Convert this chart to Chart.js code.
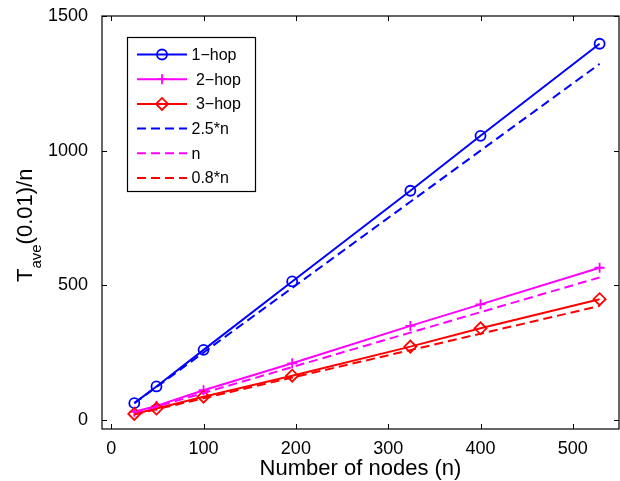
<!DOCTYPE html>
<html>
<head>
<meta charset="utf-8">
<script src="https://cdn.jsdelivr.net/npm/chart.js@4"></script>
<style>
  html, body { margin: 0; padding: 0; background: #fff; }
  #wrap { width: 620px; height: 481px; }
</style>
</head>
<body>
<div id="wrap"><canvas id="chart" width="620" height="481"></canvas></div>
<script>
const xNodes = [25, 49, 100, 196, 324, 400, 529];
const hop1 = [62, 124, 260, 514, 851, 1055, 1397];
const hop2 = [30, 52, 110, 210, 349, 429, 565];
const hop3 = [22, 42, 86, 164, 272, 340, 448];
const ref25 = [62, 122, 250, 490, 810, 1000, 1322];
const ref1 = [25, 49, 100, 196, 324, 400, 529];
const ref08 = [20, 39, 80, 157, 259, 320, 423];

const seriesLabels = ['1\u2212hop', ' 2\u2212hop', ' 3\u2212hop', '2.5*n', 'n', '0.8*n'];
const xTicks = [0, 100, 200, 300, 400, 500];
const yTicks = [0, 500, 1000, 1500];

const FONT = "'Liberation Sans', Arial, Helvetica, sans-serif";
const BLUE = '#0000ff';
const MAGENTA = '#ff00ff';
const RED = '#ff0000';
const DASH = [9, 5];

function pts(ys) {
  return xNodes.map((x, i) => ({ x, y: ys[i] }));
}

function makeSet(i, ys, color, style, dashed) {
  return {
    label: seriesLabels[i],
    data: pts(ys),
    borderColor: color,
    backgroundColor: 'transparent',
    borderWidth: 2,
    borderDash: dashed ? DASH : [],
    pointStyle: style || false,
    pointRadius: style ? (style === 'rectRot' ? 6 : 5) : 0,
    pointBorderWidth: 1.8,
    pointBorderColor: color,
    pointBackgroundColor: 'transparent',
    tension: 0,
    order: 10 - i
  };
}

const datasets = [
  makeSet(0, hop1, BLUE, 'circle', false),
  makeSet(1, hop2, MAGENTA, 'cross', false),
  makeSet(2, hop3, RED, 'rectRot', false),
  makeSet(3, ref25, BLUE, null, true),
  makeSet(4, ref1, MAGENTA, null, true),
  makeSet(5, ref08, RED, null, true)
];

// box, inward ticks, legend, axis titles in the MATLAB look
const matlabDecor = {
  id: 'matlabDecor',
  afterDraw(chart) {
    const ctx = chart.ctx;
    const a = chart.chartArea;
    const xs = chart.scales.x, ys = chart.scales.y;
    ctx.save();
    ctx.strokeStyle = '#000';
    ctx.lineWidth = 1.2;
    ctx.strokeRect(a.left, a.top, a.right - a.left, a.bottom - a.top);
    const tl = 5;
    ctx.lineWidth = 1;
    ctx.beginPath();
    xTicks.forEach(v => {
      const px = Math.round(xs.getPixelForValue(v)) + 0.5;
      ctx.moveTo(px, a.bottom); ctx.lineTo(px, a.bottom - tl);
      ctx.moveTo(px, a.top); ctx.lineTo(px, a.top + tl);
    });
    yTicks.forEach(v => {
      const py = Math.round(ys.getPixelForValue(v)) + 0.5;
      ctx.moveTo(a.left, py); ctx.lineTo(a.left + tl, py);
      ctx.moveTo(a.right, py); ctx.lineTo(a.right - tl, py);
    });
    ctx.stroke();

    // legend
    const lx = 127.5, ly = 37.5, lw = 128, lh = 154;
    ctx.fillStyle = '#fff';
    ctx.fillRect(lx, ly, lw, lh);
    ctx.lineWidth = 1.2;
    ctx.strokeRect(lx, ly, lw, lh);
    ctx.font = '16px ' + FONT;
    ctx.textBaseline = 'middle';
    ctx.textAlign = 'left';
    chart.data.datasets.forEach((ds, i) => {
      const y = 54.5 + i * 24.7;
      ctx.strokeStyle = ds.borderColor;
      ctx.lineWidth = 2;
      ctx.setLineDash(ds.borderDash);
      ctx.beginPath();
      ctx.moveTo(137, y); ctx.lineTo(187, y);
      ctx.stroke();
      ctx.setLineDash([]);
      if (ds.pointStyle) {
        ctx.fillStyle = 'rgba(0,0,0,0)';
        ctx.lineWidth = ds.pointBorderWidth;
        Chart.helpers.drawPoint(ctx, {
          pointStyle: ds.pointStyle, radius: ds.pointRadius, rotation: 0,
          borderWidth: ds.pointBorderWidth
        }, 162, y);
      }
      ctx.fillStyle = '#000';
      ctx.fillText(ds.label, 191.5, y + 1);
    });

    // x title
    ctx.fillStyle = '#000';
    ctx.font = '22px ' + FONT;
    ctx.textAlign = 'center';
    ctx.textBaseline = 'alphabetic';
    ctx.fillText('Number of nodes (n)', (a.left + a.right) / 2, 475);

    // y title with subscript
    ctx.translate(32, 282);
    ctx.rotate(-Math.PI / 2);
    ctx.textAlign = 'left';
    ctx.font = '22px ' + FONT;
    ctx.fillText('T', 0, 0);
    let off = ctx.measureText('T').width;
    ctx.font = '15px ' + FONT;
    ctx.fillText('ave', off, 9);
    off += ctx.measureText('ave').width;
    ctx.font = '22px ' + FONT;
    ctx.fillText('(0.01)/n', off, 0);
    ctx.restore();
  }
};

new Chart(document.getElementById('chart').getContext('2d'), {
  type: 'line',
  data: { datasets },
  options: {
    responsive: false,
    devicePixelRatio: 1,
    animation: false,
    layout: { autoPadding: false, padding: { left: 0, top: 16, right: 1, bottom: 0 } },
    plugins: { legend: { display: false }, tooltip: { enabled: false } },
    scales: {
      x: {
        type: 'linear',
        min: -10,
        max: 550,
        grid: { display: false },
        border: { display: false },
        afterBuildTicks: s => { s.ticks = xTicks.map(v => ({ value: v })); },
        afterFit: s => { s.height = 52; s.paddingLeft = 0; s.paddingRight = 0; },
        ticks: { font: { family: FONT, size: 18 }, color: '#000', padding: 1, maxRotation: 0,
                 callback: v => String(v) }
      },
      y: {
        type: 'linear',
        min: -34,
        max: 1500,
        grid: { display: false },
        border: { display: false },
        afterBuildTicks: s => { s.ticks = yTicks.map(v => ({ value: v })); },
        afterFit: s => { s.width = 102; s.paddingTop = 0; s.paddingBottom = 0; },
        ticks: { font: { family: FONT, size: 18 }, color: '#000', padding: 6,
                 callback: v => String(v) }
      }
    }
  },
  plugins: [matlabDecor]
});
</script>
</body>
</html>
